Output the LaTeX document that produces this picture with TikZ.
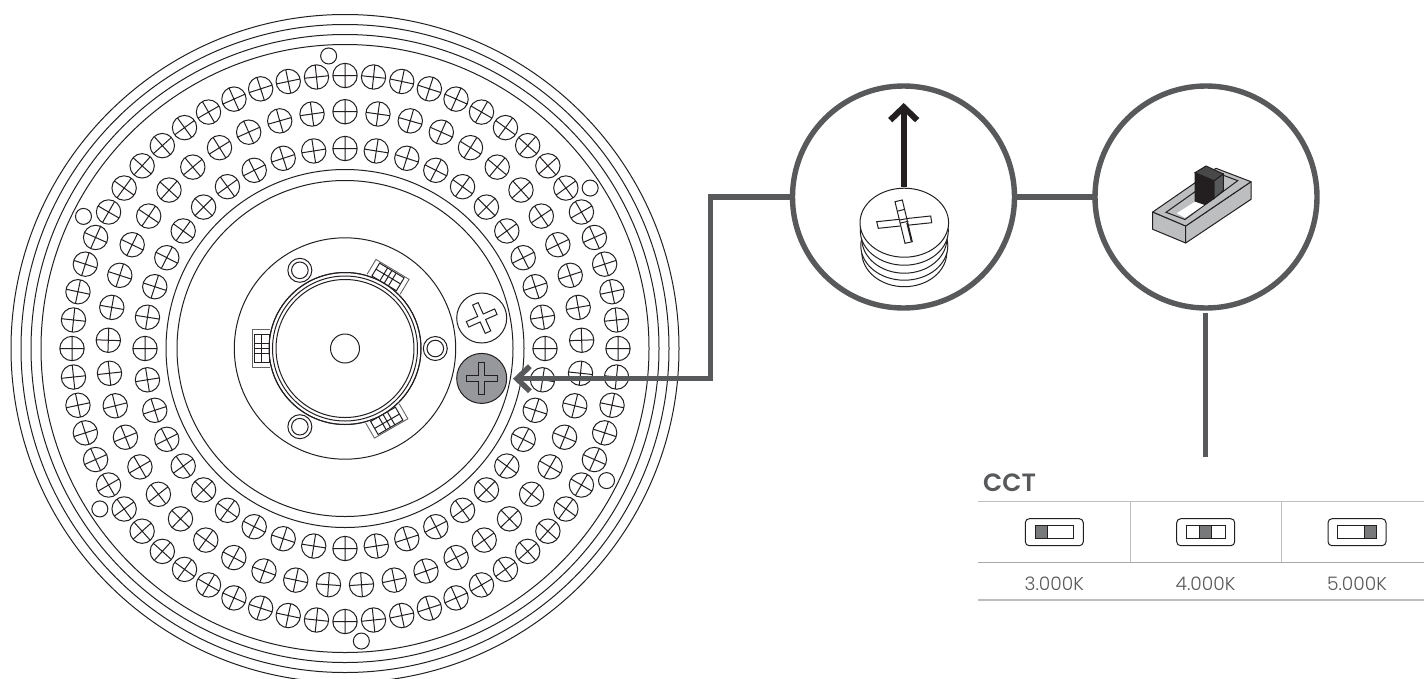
\documentclass[tikz,border=0pt]{standalone}
\usepackage{fontspec}
\newfontfamily\labelfont{Poppins Light}
\newfontfamily\headfont{Poppins SemiBold}
\usetikzlibrary{arrows.meta,calc}
\definecolor{ink}{HTML}{231F20}
\definecolor{lead}{HTML}{58595B}
\definecolor{ash}{HTML}{BCBEC0}
\definecolor{screwgray}{HTML}{97989B}
\definecolor{rulegray}{HTML}{A7A9AC}
\tikzset{
  x=1pt,y=-1pt,
  thin line/.style={draw=ink,line width=1pt},
  leadline/.style={draw=lead,line width=5.4pt},
  callout/.style={circle,draw=lead,line width=5.4pt,minimum size=222pt,inner sep=0pt,outer sep=0pt,fill=white},
  switchbox/.style={draw=ink,line width=1pt,rounded corners=4pt},
  switchslot/.style={draw=ink,line width=1.1pt,fill=white},
  switchknob/.style={draw=ink,line width=0.7pt,fill=screwgray!50!lead},
  tablerule/.style={draw=ash,line width=1.1pt},
  tablelow/.style={draw=rulegray,line width=1.1pt},
  valuetext/.style={font=\labelfont\fontsize{18.6}{22}\selectfont,text=lead,anchor=base,inner sep=0pt},
}
\begin{document}
\begin{tikzpicture}
\useasboundingbox (0,0) rectangle (1424,678);
\clip (0,0) rectangle (1424,678);
\fill[white] (0,0) rectangle (1424,678);
\def\cx{345}\def\cy{348.5}
% outer rings
\foreach \r in {334,324,314,304,179,168,110.7,76,72.5,69,14.5}
  \draw[thin line] (\cx,\cy) circle (\r);
% LED rows: radius / count step
\foreach \rr/\st/\n in {273/6/59,236.8/8/44,200/9/39}{
  \foreach \i in {0,...,\n}{
    \pgfmathsetmacro{\a}{90+\i*\st}
    \pgfmathsetmacro{\px}{\cx+\rr*cos(\a)}
    \pgfmathsetmacro{\py}{\cy-\rr*sin(\a)}
    \pgfmathsetmacro{\dx}{12.2*cos(\a)}
    \pgfmathsetmacro{\dy}{12.2*sin(\a)}
    \draw[thin line] (\px,\py) circle (12.2)
      (\px-\dx,\py+\dy) -- (\px+\dx,\py-\dy)
      (\px-\dy,\py-\dx) -- (\px+\dy,\py+\dx);
  }
}
% small plain circles on the LED band
\foreach \a in {93.2,153.2,213.2,273.2,333.2,33.2}
  \draw[thin line] ({\cx+293*cos(\a)},{\cy-293*sin(\a)}) circle (8);
% small rings on the mount
\foreach \a in {0,120,240}{
  \draw[thin line] ({\cx+90.3*cos(\a)},{\cy-90.3*sin(\a)}) circle (12) circle (8.3);
}
% clips at 60, 180, 300 degrees (drawn in local coordinates: u radial, v tangential)
\foreach \a in {59,180,300}{
  \begin{scope}[shift={(\cx,\cy)},rotate=\a-180]
    \draw[draw=ink!70,line width=0.9pt,fill=white] (-75,-19.3) -- (-92.3,-19.3) -- (-92.3,19.3) -- (-75,19.3);
    \draw[thin line] (-91,-14.3) rectangle (-76,14.3);
    \draw[thin line] (-91,-5) -- (-76,-5) (-91,0) -- (-76,0) (-91,5) -- (-76,5) (-84,-14.3) -- (-84,14.3);
  \end{scope}
}
\draw[thin line] (\cx,\cy) circle (76);
% white screw
\node[circle,thin line,minimum size=50pt,inner sep=0pt,outer sep=0pt,fill=white] (whiteScrew) at (481.7,318) {};
\begin{scope}[shift={(whiteScrew)},rotate=24]
  \draw[thin line] (-3,-3) -- (-3,-15.5) -- (3,-15.5) -- (3,-3) -- (15.5,-3) -- (15.5,3) -- (3,3) -- (3,15.5) -- (-3,15.5) -- (-3,3) -- (-15.5,3) -- (-15.5,-3) -- cycle;
\end{scope}
% grey screw
\node[circle,thin line,minimum size=50pt,inner sep=0pt,outer sep=0pt,fill=screwgray] (greyScrew) at (481.7,378.4) {};
\draw[draw=ink,line width=0.9pt] (greyScrew.center) ++(-3,-3) -- ++(0,-12.6) -- ++(6,0) -- ++(0,12.6) -- ++(12.6,0) -- ++(0,6) -- ++(-12.6,0) -- ++(0,12.6) -- ++(-6,0) -- ++(0,-12.6) -- ++(-12.6,0) -- ++(0,-6) -- cycle;
% callouts
\coordinate (bendTop) at (710.7,197);
\coordinate (bendLow) at (710.7,378.7);
\coordinate (arrowTip) at (513,378.7);
\coordinate (stubTop) at (1205.5,313);
\coordinate (stubEnd) at (1205.5,456.5);
\node[callout] (lensA) at (903.5,197) {};
\node[callout] (lensB) at (1206,197) {};
\draw[leadline,line join=miter,-{Straight Barb[length=13pt,width=25pt,line width=5.4pt]}] (lensA.west) -- (bendTop) -- (bendLow) -- (arrowTip);
\draw[leadline] (lensA.east) -- (lensB.west);
\draw[draw=lead,line width=5.6pt] (stubTop) -- (stubEnd);
% pull-out screw
\foreach \dy/\rx in {29.5/42.5,23/43.5,16/42.5,8/44}
  \draw[thin line,fill=white] (904.3,222.7+\dy) ellipse ({\rx} and 34.5);
\draw[thin line,fill=white] (904.3,222.7) ellipse (44.3 and 34.5);
\draw[thin line,fill=white] (876.7,221.7) -- (878.3,228.3) -- (931.7,222.7) -- (930.7,216) -- cycle;
\draw[thin line,fill=white] (895,201.7) -- (902.3,200) -- (912.3,241.7) -- (905,243.3) -- cycle;
\draw[thin line] (898,211) -- (905,209.3) (899.7,220) -- (907.5,218.5) (900.3,223) -- (908.3,221.3);
\draw[draw=ink,line width=1.4pt] (907,223) -- (911.5,241.5);
\coordinate (pullStart) at (903.7,187);
\coordinate (pullTip) at (903.7,103);
\draw[draw=ink,line width=6pt,-{Straight Barb[length=13pt,width=27pt,line width=6pt]}] (pullStart) -- (pullTip);
% slide switch
\draw[thin line,fill=ash,line join=round] (1152.7,212) -- (1185.7,226) -- (1185.7,243) -- (1152.7,229.3) -- cycle;
\draw[thin line,fill=ash,line join=round] (1185.7,226) -- (1251,181.7) -- (1251,199.3) -- (1185.7,243) -- cycle;
\draw[thin line,fill=ash,line join=round] (1152.7,212) -- (1185.7,226) -- (1251,181.7) -- (1216,168.3) -- cycle;
\draw[thin line,fill=ash] (1166,212.3) -- (1185,219.5) -- (1237.7,180.7) -- (1220,174) -- cycle;
\fill[white] (1176.7,213.3) -- (1185,217.7) -- (1205,204.3) -- (1195,201.7) -- cycle;
\draw[thin line,fill=ink] (1195,172.7) -- (1214,180.7) -- (1214,198.5) -- (1205,204.5) -- (1195,201) -- cycle;
\draw[thin line,fill=lead] (1214,180.7) -- (1223.3,174) -- (1223.3,190.7) -- (1214,198.5) -- cycle;
\draw[thin line,fill=lead!70!ink] (1195,172.7) -- (1206,166) -- (1223.3,174) -- (1214,180.7) -- cycle;
% CCT table
\node[font=\headfont\fontsize{25}{28}\selectfont,text=lead,anchor=base west,inner sep=0pt] (cctTitle) at (983,491.7) {CCT};
\draw[tablerule] (978,501.7) -- (1424,501.7);
\draw[tablelow] (978,562.3) -- (1424,562.3);
\draw[tablerule] (978,600) -- (1424,600);
\draw[tablerule] (1130.3,501.7) -- (1130.3,562.3);
\draw[tablerule] (1281.3,501.7) -- (1281.3,562.3);
\foreach \ox/\sx/\kx in {1025.3/1035.3/1035.3,1176.7/1186.7/1199.3,1328/1337.7/1364}{
  \draw[switchbox] (\ox,518.7) rectangle (\ox+58,545.7);
  \draw[switchslot] (\sx,525.7) rectangle (\sx+38.5,538.7);
  \draw[switchknob] (\kx,525.7) rectangle (\kx+12.4,538.7);
}
\node[valuetext] (valueA) at (1054.3,590) {3.000K};
\node[valuetext] (valueB) at (1205.5,590) {4.000K};
\node[valuetext] (valueC) at (1357,590) {5.000K};
\end{tikzpicture}
\end{document}
